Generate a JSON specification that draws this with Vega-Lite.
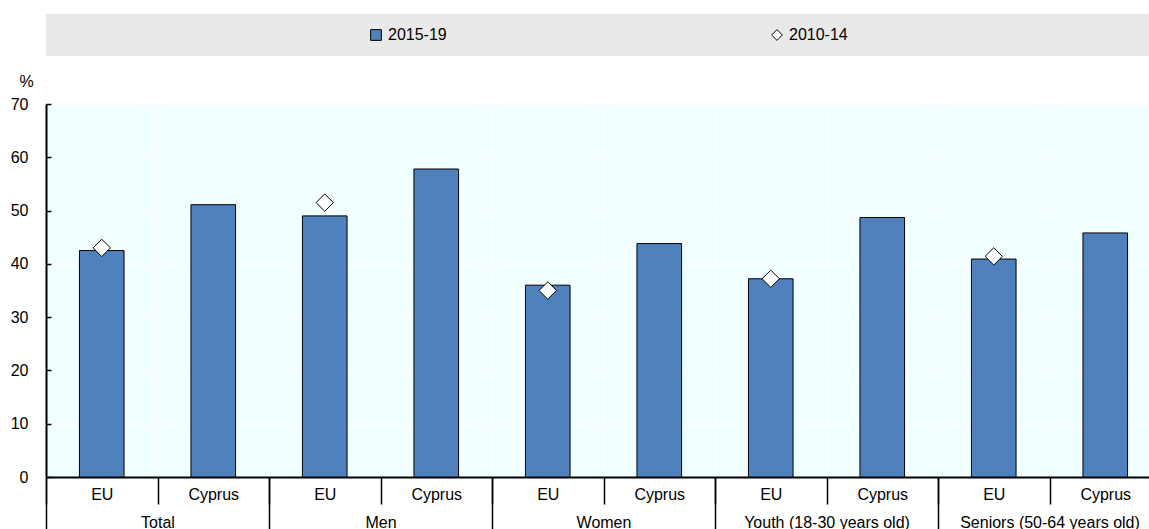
{
  "$schema": "https://vega.github.io/schema/vega-lite/v6.json",
  "autosize": {"type": "none"},
  "padding": {"left": 46, "top": 104, "right": 0, "bottom": 52},
  "width": 1103,
  "height": 373,
  "datasets": {
    "now": [
      {"group": "Total", "area": "EU", "bar": "Total|EU", "series": "2015-19", "value": 42.5},
      {"group": "Total", "area": "Cyprus", "bar": "Total|Cyprus", "series": "2015-19", "value": 51.1},
      {"group": "Men", "area": "EU", "bar": "Men|EU", "series": "2015-19", "value": 49.0},
      {"group": "Men", "area": "Cyprus", "bar": "Men|Cyprus", "series": "2015-19", "value": 57.8},
      {"group": "Women", "area": "EU", "bar": "Women|EU", "series": "2015-19", "value": 36.0},
      {"group": "Women", "area": "Cyprus", "bar": "Women|Cyprus", "series": "2015-19", "value": 43.8},
      {"group": "Youth (18-30 years old)", "area": "EU", "bar": "Youth (18-30 years old)|EU", "series": "2015-19", "value": 37.2},
      {"group": "Youth (18-30 years old)", "area": "Cyprus", "bar": "Youth (18-30 years old)|Cyprus", "series": "2015-19", "value": 48.7},
      {"group": "Seniors (50-64 years old)", "area": "EU", "bar": "Seniors (50-64 years old)|EU", "series": "2015-19", "value": 40.9},
      {"group": "Seniors (50-64 years old)", "area": "Cyprus", "bar": "Seniors (50-64 years old)|Cyprus", "series": "2015-19", "value": 45.8}
    ],
    "prev": [
      {"group": "Total", "area": "EU", "bar": "Total|EU", "series": "2010-14", "value": 43.0},
      {"group": "Men", "area": "EU", "bar": "Men|EU", "series": "2010-14", "value": 51.5},
      {"group": "Women", "area": "EU", "bar": "Women|EU", "series": "2010-14", "value": 35.0},
      {"group": "Youth (18-30 years old)", "area": "EU", "bar": "Youth (18-30 years old)|EU", "series": "2010-14", "value": 37.2},
      {"group": "Seniors (50-64 years old)", "area": "EU", "bar": "Seniors (50-64 years old)|EU", "series": "2010-14", "value": 41.4}
    ]
  },
  "config": {
    "font": "Liberation Sans, Arial, sans-serif",
    "view": {"fill": "#f2ffff", "stroke": null},
    "axis": {
      "labelFont": "Liberation Sans, Arial, sans-serif",
      "labelFontSize": 16,
      "labelColor": "#000000",
      "labelLimit": 400,
      "titleFont": "Liberation Sans, Arial, sans-serif",
      "titleFontSize": 16,
      "titleFontWeight": "normal",
      "titleColor": "#000000"
    },
    "legend": {
      "labelFont": "Liberation Sans, Arial, sans-serif",
      "labelFontSize": 16,
      "labelColor": "#000000"
    }
  },
  "layer": [
    {
      "layer": [
        {
          "data": {"name": "now"},
          "mark": {"type": "bar", "stroke": "#000000", "strokeWidth": 1, "width": {"band": 0.4}},
          "encoding": {
            "x": {
              "field": "bar", "type": "nominal", "sort": null,
              "scale": {
                "domain": ["Total|EU", "Total|Cyprus", "Men|EU", "Men|Cyprus", "Women|EU", "Women|Cyprus", "Youth (18-30 years old)|EU", "Youth (18-30 years old)|Cyprus", "Seniors (50-64 years old)|EU", "Seniors (50-64 years old)|Cyprus"],
                "range": [0, 1115],
                "paddingInner": 0,
                "paddingOuter": 0
              },
              "axis": {
                "orient": "bottom",
                "title": null,
                "labelExpr": "split(datum.label, '|')[1]",
                "labelAngle": 0,
                "labelBaseline": "alphabetic",
                "labelPadding": -5,
                "tickBand": "extent",
                "tickSize": 27,
                "tickColor": "#000000",
                "tickWidth": 1.5,
                "domainColor": "#000000",
                "domainWidth": 2,
                "grid": true,
                "gridColor": "#ffffff",
                "gridWidth": 1
              }
            },
            "y": {
              "field": "value", "type": "quantitative",
              "scale": {"domain": [0, 70], "nice": false},
              "axis": {
                "title": "%",
                "titleAngle": 0,
                "titleAlign": "center",
                "titleBaseline": "middle",
                "titleX": -20,
                "titleY": -23,
                "values": [0, 10, 20, 30, 40, 50, 60, 70],
                "tickSize": -5,
                "tickColor": "#000000",
                "tickWidth": 1.5,
                "labelPadding": 23,
                "labelBaseline": "middle",
                "domainColor": "#000000",
                "domainWidth": 2,
                "grid": true,
                "gridColor": "#ffffff",
                "gridWidth": 1
              }
            },
            "color": {
              "field": "series", "type": "nominal", "title": "\u00a0",
              "scale": {"domain": ["2015-19", "2010-14"], "range": ["#4f81bd", "#ffffff"]},
              "legend": {
                "orient": "none",
                "direction": "horizontal",
                "legendX": 0,
                "legendY": -90,
                "fillColor": "#e9e9e9",
                "padding": 13,
                "titleOrient": "left",
                "titleFontSize": 1,
                "titleColor": "#e9e9e9",
                "titlePadding": 309,
                "columnPadding": 322,
                "symbolSize": 115,
                "symbolStrokeColor": "#000000",
                "symbolStrokeWidth": 1,
                "labelOffset": 4,
                "labelLimit": 3000,
                "labelExpr": "datum.value == '2010-14' ? datum.label + '\u00a0\u00a0\u00a0\u00a0\u00a0\u00a0\u00a0\u00a0\u00a0\u00a0\u00a0\u00a0\u00a0\u00a0\u00a0\u00a0\u00a0\u00a0\u00a0\u00a0\u00a0\u00a0\u00a0\u00a0\u00a0\u00a0\u00a0\u00a0\u00a0\u00a0\u00a0\u00a0\u00a0\u00a0\u00a0\u00a0\u00a0\u00a0\u00a0\u00a0\u00a0\u00a0\u00a0\u00a0\u00a0\u00a0\u00a0\u00a0\u00a0\u00a0\u00a0\u00a0\u00a0\u00a0\u00a0\u00a0\u00a0\u00a0\u00a0\u00a0\u00a0\u00a0\u00a0\u00a0\u2800' : datum.label"
              }
            }
          }
        },
        {
          "data": {"name": "prev"},
          "mark": {"type": "point", "filled": true, "stroke": "#000000", "strokeWidth": 1, "size": 300, "opacity": 1},
          "encoding": {
            "x": {"field": "bar", "type": "nominal", "sort": null},
            "y": {"field": "value", "type": "quantitative"},
            "color": {"field": "series", "type": "nominal", "title": "\u00a0"},
            "shape": {
              "field": "series", "type": "nominal", "title": "\u00a0",
              "scale": {"domain": ["2015-19", "2010-14"], "range": ["square", "diamond"]}
            }
          }
        }
      ]
    },
    {
      "data": {"name": "now"},
      "mark": {"type": "bar", "opacity": 0},
      "encoding": {
        "x": {
          "field": "group", "type": "nominal", "sort": null,
          "scale": {
            "domain": ["Total", "Men", "Women", "Youth (18-30 years old)", "Seniors (50-64 years old)"],
            "range": [0, 1115],
            "paddingInner": 0,
            "paddingOuter": 0
          },
          "axis": {
            "orient": "bottom",
            "title": null,
            "labelAngle": 0,
            "labelBaseline": "alphabetic",
            "labelPadding": -3,
            "labelLimit": 400,
            "tickBand": "extent",
            "tickSize": 53,
            "tickColor": "#000000",
            "tickWidth": 1.5,
            "domain": false,
            "grid": false
          }
        },
        "y": {"field": "value", "type": "quantitative"}
      }
    },
    {
      "mark": {"type": "rule", "stroke": "#000000", "strokeWidth": 2},
      "encoding": {"y": {"datum": 70}}
    }
  ],
  "resolve": {"scale": {"x": "independent"}, "axis": {"x": "independent"}}
}
